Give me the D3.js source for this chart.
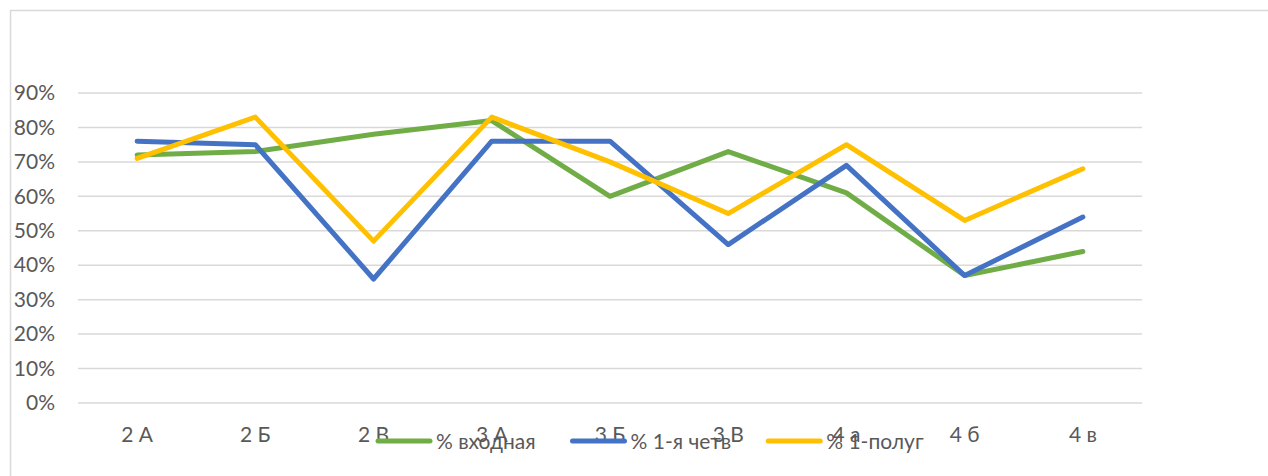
<!DOCTYPE html>
<html>
<head>
<meta charset="utf-8">
<script src="https://cdn.jsdelivr.net/npm/d3@7"></script>
<style>
  body { margin: 0; background: #fff; }
  text { font-family: Lato, "Open Sans", sans-serif; fill: #595959; }
</style>
</head>
<body>
<div id="chart"></div>
<script>
// chart data
var classes = ["2 А", "2 Б", "2 В", "3 А", "3 Б", "3 В", "4 а", "4 б", "4 в"];
var seriesNames = ["% входная", "% 1-я четв", "% 1-полуг"];
var vhodnaya = [72, 73, 78, 82, 60, 73, 61, 37, 44];
var chetvert = [76, 75, 36, 76, 76, 46, 69, 37, 54];
var polugodie = [71, 83, 47, 83, 70, 55, 75, 53, 68];
var yTicks = [0, 10, 20, 30, 40, 50, 60, 70, 80, 90];

var colors = ["#70AD47", "#4472C4", "#FFC000"];
var series = [vhodnaya, chetvert, polugodie];

var width = 1268, height = 476;
var margin = {top: 93, right: 126, bottom: 73, left: 78};

var svg = d3.select("#chart").append("svg")
    .attr("width", width)
    .attr("height", height);

// outer chart border (runs off the right and bottom edge)
svg.append("rect")
    .attr("x", 10.5).attr("y", 10.5)
    .attr("width", 1300).attr("height", 500)
    .attr("fill", "none")
    .attr("stroke", "#D9D9D9")
    .attr("stroke-width", 1.5);

var x = d3.scaleBand()
    .domain(classes)
    .range([margin.left, width - margin.right]);

var y = d3.scaleLinear()
    .domain([0, 90])
    .range([height - margin.bottom, margin.top]);

// gridlines
svg.append("g")
  .selectAll("line")
  .data(yTicks)
  .enter().append("line")
    .attr("x1", margin.left)
    .attr("x2", width - margin.right)
    .attr("y1", d => y(d))
    .attr("y2", d => y(d))
    .attr("stroke", "#D9D9D9")
    .attr("stroke-width", 1.5);

// y labels
var yAxis = d3.axisLeft(y)
    .tickValues(yTicks)
    .tickFormat(d => d + "%")
    .tickSize(0)
    .tickPadding(23);

var gy = svg.append("g")
    .attr("transform", "translate(" + margin.left + ",0)")
    .call(yAxis);
gy.select(".domain").remove();
gy.selectAll("text")
    .style("font-size", "21px")
    .attr("fill", "#595959")
    .attr("font-family", "Lato, sans-serif");

// x labels
var xAxis = d3.axisBottom(x).tickSize(0).tickPadding(24);
var gx = svg.append("g")
    .attr("transform", "translate(0," + (height - margin.bottom) + ")")
    .call(xAxis);
gx.select(".domain").remove();
gx.selectAll("text")
    .style("font-size", "21px")
    .attr("fill", "#595959")
    .attr("font-family", "Lato, sans-serif");

var line = d3.line()
    .x((d, i) => x(classes[i]) + x.bandwidth() / 2)
    .y(d => y(d));

svg.append("g")
  .selectAll("path")
  .data(series)
  .enter().append("path")
    .attr("d", line)
    .attr("fill", "none")
    .attr("stroke", (d, i) => colors[i])
    .attr("stroke-width", 5)
    .attr("stroke-linecap", "round")
    .attr("stroke-linejoin", "round");

// legend
var legend = svg.append("g").attr("transform", "translate(0,441)");
var lx = 378;
seriesNames.forEach(function(name, i) {
  var g = legend.append("g").attr("transform", "translate(" + lx + ",0)");
  g.append("line")
      .attr("x1", 0).attr("x2", 52)
      .attr("y1", 0).attr("y2", 0)
      .attr("stroke", colors[i])
      .attr("stroke-width", 5)
      .attr("stroke-linecap", "round");
  var t = g.append("text")
      .attr("x", 58)
      .attr("y", 8)
      .style("font-size", "21px")
      .text(name);
  lx += 58 + t.node().getComputedTextLength() + 37;
});
</script>
</body>
</html>
